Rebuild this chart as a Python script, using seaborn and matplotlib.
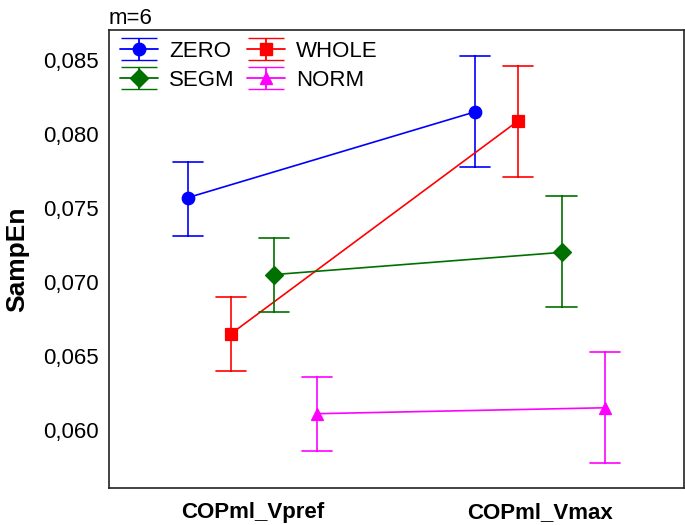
import numpy as np
import pandas as pd
import matplotlib
matplotlib.use("Agg")
import matplotlib.pyplot as plt
from matplotlib.ticker import FuncFormatter
import seaborn as sns

# ---- data ----
conditions = ["COPml_Vpref", "COPml_Vmax"]
groups = ["ZERO", "WHOLE", "SEGM", "NORM"]
mean_vals = {
    "ZERO":  [0.0757, 0.0815],
    "WHOLE": [0.0665, 0.0809],
    "SEGM":  [0.0705, 0.0720],
    "NORM":  [0.0611, 0.0615],
}
low_vals = {
    "ZERO":  [0.0731, 0.0778],
    "WHOLE": [0.0640, 0.0771],
    "SEGM":  [0.0680, 0.0683],
    "NORM":  [0.0586, 0.0578],
}
high_vals = {
    "ZERO":  [0.0781, 0.0853],
    "WHOLE": [0.0690, 0.0846],
    "SEGM":  [0.0730, 0.0758],
    "NORM":  [0.0636, 0.0653],
}

colors = {"ZERO": "#0000ff", "WHOLE": "#ff0000", "SEGM": "#007000", "NORM": "#ff00ff"}
markers = {"ZERO": "o", "WHOLE": "s", "SEGM": "D", "NORM": "^"}

# long table: low / mean / high per point -> median gives the mean, min/max give the bars
rows = []
for g in groups:
    for i, c in enumerate(conditions):
        for v in (low_vals[g][i], mean_vals[g][i], high_vals[g][i]):
            rows.append({"group": g, "cond": c, "SampEn": v})
df = pd.DataFrame(rows)

sns.set_style("white")
plt.rcParams["font.family"] = ["Liberation Sans", "DejaVu Sans"]
plt.rcParams["text.color"] = "black"
plt.rcParams["axes.labelcolor"] = "black"

fig = plt.figure(figsize=(6.85, 5.25), dpi=100)
ax = fig.add_axes([0.159, 0.0705, 0.839, 0.8725])

sns.pointplot(
    data=df, x="cond", y="SampEn", hue="group",
    order=conditions, hue_order=groups,
    estimator="median", errorbar=lambda v: (v.min(), v.max()),
    palette=colors, markers=[markers[g] for g in groups],
    dodge=0.45, capsize=0.105, linewidth=1.2, markersize=9,
    err_kws={"linewidth": 1.2}, ax=ax,
)

ax.set_xlim(-0.5, 1.5)
ax.set_ylim(0.05608, 0.08703)
ax.set_yticks([0.060, 0.065, 0.070, 0.075, 0.080, 0.085])
ax.yaxis.set_major_formatter(FuncFormatter(lambda v, p: f"{v:.3f}".replace(".", ",")))
ax.tick_params(direction="in", length=5, width=1, labelsize=16, colors="black")
ax.tick_params(axis="y", pad=7)
ax.tick_params(axis="x", pad=10, labelsize=16)
for lbl in ax.get_xticklabels():
    lbl.set_fontweight("bold")
for s in ax.spines.values():
    s.set_color("#222222")
    s.set_linewidth(1.2)

ax.set_xlabel("")
ax.set_ylabel("SampEn", fontsize=19, fontweight="bold", labelpad=10, color="black")
ax.set_title("m=6", loc="left", fontsize=16, pad=4, color="black")

# legend with errorbar style handles, two columns
ax.get_legend().remove()
handles = {}
for g in groups:
    handles[g] = ax.errorbar([np.nan], [np.nan], yerr=[[0.001]], color=colors[g],
                             marker=markers[g], markersize=9, capsize=13,
                             linewidth=1.3, label=g)
order = ["ZERO", "SEGM", "WHOLE", "NORM"]
leg = ax.legend([handles[g] for g in order], order, loc="upper left", ncol=2,
                frameon=False, fontsize=16, handlelength=1.7, handletextpad=0.5,
                columnspacing=0.55, labelspacing=0.35, borderaxespad=0.1)
for t in leg.get_texts():
    t.set_color("black")

fig.savefig("out.png", dpi=100)
